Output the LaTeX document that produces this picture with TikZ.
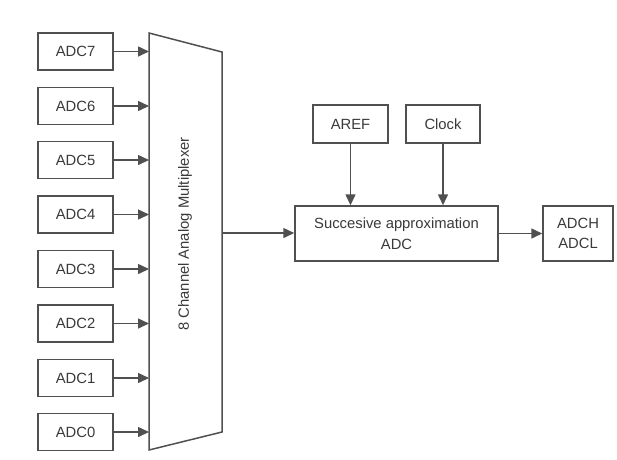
\documentclass[tikz,border=0pt]{standalone}
\usepackage{fontspec}
\setmainfont{Liberation Sans}
\usetikzlibrary{arrows.meta}
\definecolor{linegray}{HTML}{505050}
\definecolor{textgray}{HTML}{3A3A3A}
\begin{document}
\begin{tikzpicture}[x=1pt,y=-1pt,
  blk/.style={draw=linegray, line width=1.5pt, fill=white, text=textgray,
    font=\fontsize{14.8}{20.5}\selectfont, inner sep=0pt, align=center},
  inbox/.style={blk, minimum width=75pt, minimum height=37pt},
  conn/.style={draw=linegray, line width=1.5pt, -{Triangle[length=11pt,width=10pt]}}]
\useasboundingbox (0,0) rectangle (617,459);
\fill[white] (0,0) rectangle (617,459);

% input channels
\foreach \i/\y in {7/51.5,6/106,5/160,4/214.5,3/269,2/323.5,1/378,0/432}{
  \node[inbox] (adc\i) at (75.5,\y) {ADC\i};
}

% multiplexer trapezoid
\coordinate (mtl) at (149,33);
\coordinate (mtr) at (222,52);
\coordinate (mbr) at (222,432);
\coordinate (mbl) at (149,450);
\draw[draw=linegray, line width=1.5pt, fill=white] (mtl) -- (mtr) -- (mbr) -- (mbl) -- cycle;
\node[text=textgray, font=\fontsize{14.8}{16}\selectfont, rotate=90] (muxlabel) at (185,234) {8 Channel Analog Multiplexer};
\coordinate (muxout) at (222,233);

\foreach \i in {0,...,7}{
  \draw[conn] (adc\i.east) -- (adc\i.east -| mtl);
}

% converter and its inputs
\node[blk, minimum width=203pt, minimum height=55pt] (sar) at (396.5,233.5) {Succesive approximation\\ADC};
\node[blk, minimum width=75pt, minimum height=38pt] (aref) at (350.5,124) {AREF};
\node[blk, minimum width=74pt, minimum height=38pt] (clock) at (443,124) {Clock};
\node[blk, minimum width=70pt, minimum height=55pt] (adcreg) at (578,233.5) {ADCH\\ADCL};

\draw[conn] (muxout) -- (muxout -| sar.west);
\draw[conn] (aref.south) -- (aref.south |- sar.north);
\draw[conn] (clock.south) -- (clock.south |- sar.north);
\draw[conn] (sar.east) -- (adcreg.west);
\end{tikzpicture}
\end{document}
